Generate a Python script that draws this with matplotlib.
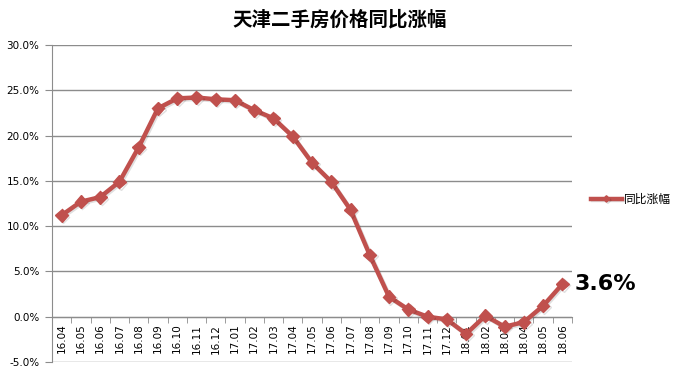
import matplotlib
matplotlib.use("Agg")
import matplotlib.pyplot as plt
import matplotlib.patheffects as pe
import numpy as np

plt.rcParams['font.family'] = ['Noto Sans CJK SC', 'DejaVu Sans']

months = ["16.04", "16.05", "16.06", "16.07", "16.08", "16.09", "16.10", "16.11", "16.12",
          "17.01", "17.02", "17.03", "17.04", "17.05", "17.06", "17.07", "17.08", "17.09",
          "17.10", "17.11", "17.12", "18.01", "18.02", "18.03", "18.04", "18.05", "18.06"]
yoy = [11.2, 12.7, 13.2, 14.9, 18.7, 23.0, 24.1, 24.2, 24.0,
       23.9, 22.8, 21.9, 19.9, 17.0, 14.9, 11.8, 6.8, 2.2,
       0.8, 0.0, -0.3, -1.9, 0.1, -1.1, -0.6, 1.2, 3.6]
series_name = "同比涨幅"
title = "天津二手房价格同比涨幅"
yticks = [-5, 0, 5, 10, 15, 20, 25, 30]

fig = plt.figure(figsize=(6.87, 3.73), dpi=100)
ax = fig.add_axes([0.0757, 0.0295, 0.7569, 0.85])

x = np.arange(len(months))
color = '#C0504D'
line, = ax.plot(x, yoy, color=color, lw=3.2, marker='D', ms=6.5, mec=color, mfc=color,
                label=series_name, zorder=3,
                path_effects=[pe.SimpleLineShadow(offset=(1, -1), shadow_color='#000000', alpha=0.12),
                              pe.Normal()])

ax.set_xlim(-0.5, len(months) - 0.5)
ax.set_ylim(-5, 30)
ax.set_yticks(yticks)
ax.set_yticklabels([f"{v:.1f}%" for v in yticks], fontsize=7.5, family=['DejaVu Sans'])
ax.yaxis.grid(True, color='#8C8C8C', lw=1)
ax.set_axisbelow(True)

for s in ['top', 'right']:
    ax.spines[s].set_visible(False)
ax.spines['left'].set_color('#8C8C8C')
ax.spines['bottom'].set_color('#8C8C8C')
ax.spines['bottom'].set_position(('data', 0))

ax.set_xticks(x)
ax.set_xticklabels(months, rotation=90, fontsize=7.5, family=['DejaVu Sans'])
ax.tick_params(axis='x', which='major', length=0, pad=5)
ax.set_xticks(np.arange(len(months) + 1) - 0.5, minor=True)
ax.tick_params(axis='x', which='minor', length=4, color='#8C8C8C', direction='out')
ax.tick_params(axis='y', length=5, color='#8C8C8C', pad=4)

fig.suptitle(title, fontsize=14, fontweight='bold', x=0.495, y=0.975)

ax.annotate(f"{yoy[-1]:.1f}%", xy=(x[-1], yoy[-1]), xytext=(12, 0), textcoords='offset pixels',
            fontsize=16, fontweight='bold', va='center', ha='left', family=['DejaVu Sans'])

leg = ax.legend(loc='center left', bbox_to_anchor=(0.845, 0.465), bbox_transform=fig.transFigure,
                frameon=False, fontsize=8.5, handlelength=2.6, handletextpad=0.2, markerscale=0.5)

fig.savefig("out.png", dpi=100)
